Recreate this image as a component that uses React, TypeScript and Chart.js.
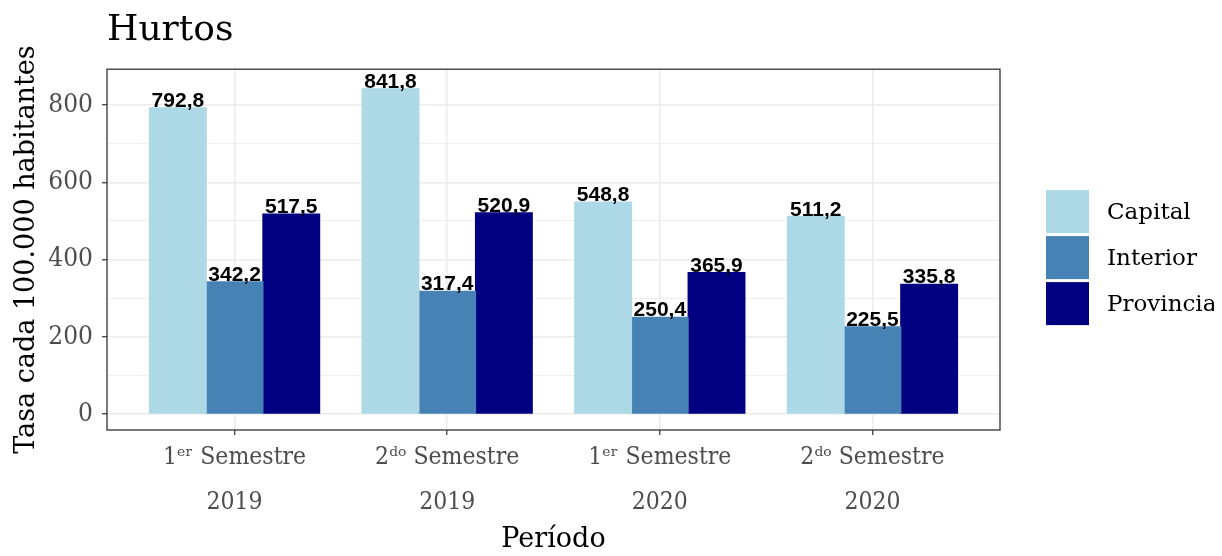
import React, { useEffect, useRef } from 'react';
import { Chart, registerables } from 'chart.js';

Chart.register(...registerables);

const periodPositions = [1, 2, 3, 4];
const periodLabels = [
  ['1ᵉʳ Semestre', '2019'],
  ['2ᵈᵒ Semestre', '2019'],
  ['1ᵉʳ Semestre', '2020'],
  ['2ᵈᵒ Semestre', '2020'],
];
const seriesNames = ['Capital', 'Interior', 'Provincia'];
const capital = [792.8, 841.8, 548.8, 511.2];
const interior = [342.2, 317.4, 250.4, 225.5];
const provincia = [517.5, 520.9, 365.9, 335.8];
const seriesColors = ['#ADD8E6', '#4682B4', '#000080'];
const yTickValues = [0, 100, 200, 300, 400, 500, 600, 700, 800];
const yMajorStep = 200;

const serif = '"DejaVu Serif", serif';
const serifCond = '"DejaVu Serif Condensed", "DejaVu Serif", serif';

const fmt = (v: number) => v.toFixed(1).replace('.', ',');

const barLabelPlugin = {
  id: 'barLabels',
  afterDatasetsDraw(chart: any) {
    const ctx = chart.ctx;
    ctx.save();
    ctx.font = 'bold 21px "Liberation Sans", Arial, sans-serif';
    ctx.fillStyle = '#000000';
    ctx.textAlign = 'center';
    ctx.textBaseline = 'alphabetic';
    chart.data.datasets.forEach((ds: any, i: number) => {
      const meta = chart.getDatasetMeta(i);
      meta.data.forEach((el: any, j: number) => {
        const v = ds.data[j].y;
        ctx.fillText(fmt(v), el.x, el.y - 1);
      });
    });
    ctx.restore();
  },
};

const panelBorderPlugin = {
  id: 'panelBorder',
  afterDraw(chart: any) {
    const { ctx, chartArea } = chart;
    ctx.save();
    ctx.strokeStyle = '#333333';
    ctx.lineWidth = 1.3;
    ctx.strokeRect(chartArea.left, chartArea.top, chartArea.right - chartArea.left, chartArea.bottom - chartArea.top);
    ctx.restore();
  },
};

const legendPlugin = {
  id: 'sideLegend',
  afterDraw(chart: any) {
    const { ctx, chartArea } = chart;
    const box = 43;
    const gap = 3;
    const x0 = chartArea.right + 46;
    const n = chart.data.datasets.length;
    const totalH = n * box + (n - 1) * gap;
    const y0 = (chartArea.top + chartArea.bottom) / 2 - totalH / 2 + 8;
    ctx.save();
    ctx.font = '23px ' + serif;
    ctx.textAlign = 'left';
    ctx.textBaseline = 'middle';
    chart.data.datasets.forEach((ds: any, i: number) => {
      const y = y0 + i * (box + gap);
      ctx.fillStyle = ds.backgroundColor;
      ctx.fillRect(x0, y, box, box);
      ctx.fillStyle = '#000000';
      ctx.fillText(ds.label, x0 + box + 18, y + box / 2 + 1);
    });
    ctx.restore();
  },
};

export default function App() {
  const canvasRef = useRef<HTMLCanvasElement | null>(null);

  useEffect(() => {
    if (!canvasRef.current) return;
    const allSeries = [capital, interior, provincia];
    const chart = new Chart(canvasRef.current, {
      type: 'bar',
      data: {
        datasets: seriesNames.map((name, i) => ({
          label: name,
          data: periodPositions.map((x, j) => ({ x, y: allSeries[i][j] })),
          backgroundColor: seriesColors[i],
          borderWidth: 0,
          inflateAmount: 0.6,
          categoryPercentage: 0.8,
          barPercentage: 1,
        })),
      },
      options: {
        animation: false,
        responsive: false,
        maintainAspectRatio: false,
        layout: { padding: { left: 0, right: 214, top: 0, bottom: 0 } },
        plugins: {
          legend: { display: false },
          tooltip: { enabled: false },
          title: {
            display: true,
            text: 'Hurtos',
            align: 'start',
            fullSize: false,
            color: '#000000',
            font: { family: serif, size: 36, weight: 'normal', lineHeight: 1.2 },
            padding: { top: 1, bottom: 17 },
          },
        },
        scales: {
          x: {
            type: 'linear',
            min: 0.4,
            max: 4.6,
            offset: false,
            afterBuildTicks: (axis: any) => {
              axis.ticks = periodPositions.map((v) => ({ value: v }));
            },
            afterFit: (scale: any) => {
              scale.height = 126;
            },
            ticks: {
              autoSkip: false,
              maxRotation: 0,
              color: '#4D4D4D',
              padding: 0,
              font: { family: serifCond, size: 24.5, lineHeight: '45px' },
              callback: (value: any) => {
                const idx = periodPositions.indexOf(Number(value));
                return idx >= 0 ? periodLabels[idx] : '';
              },
            },
            grid: {
              offset: false,
              color: '#EBEBEB',
              lineWidth: 1.5,
              drawTicks: true,
              tickLength: 5,
              tickColor: '#333333',
              tickWidth: 1.2,
            },
            border: { display: false },
            title: {
              display: true,
              text: 'Período',
              color: '#000000',
              font: { family: serif, size: 27, lineHeight: 1.2 },
              padding: { top: 0, bottom: 0 },
            },
          },
          y: {
            type: 'linear',
            min: -41.5,
            max: 893,
            afterBuildTicks: (axis: any) => {
              axis.ticks = yTickValues.map((v) => ({ value: v }));
            },
            afterFit: (scale: any) => {
              scale.width = 99;
            },
            ticks: {
              color: '#4D4D4D',
              padding: 9,
              font: { family: serifCond, size: 26 },
              callback: (value: any) => (Number(value) % yMajorStep === 0 ? String(value) : ''),
            },
            grid: {
              color: '#EBEBEB',
              lineWidth: (c: any) => (c.tick && c.tick.value % yMajorStep === 0 ? 1.5 : 0.8),
              drawTicks: true,
              tickLength: 5,
              tickColor: (c: any) => (c.tick && c.tick.value % yMajorStep === 0 ? '#333333' : 'rgba(0,0,0,0)'),
              tickWidth: 1.2,
            },
            border: { display: false },
            title: {
              display: true,
              text: 'Tasa cada 100.000 habitantes',
              color: '#000000',
              font: { family: serif, size: 27, lineHeight: 1.2 },
              padding: { top: 3, bottom: 0 },
            },
          },
        },
      },
      plugins: [barLabelPlugin, panelBorderPlugin, legendPlugin],
    } as any);
    return () => chart.destroy();
  }, []);

  return (
    <div style={{ width: 1206, height: 548, marginBottom: -8 }}>
      <canvas ref={canvasRef} width={1206} height={548} style={{ display: 'block' }} />
    </div>
  );
}
